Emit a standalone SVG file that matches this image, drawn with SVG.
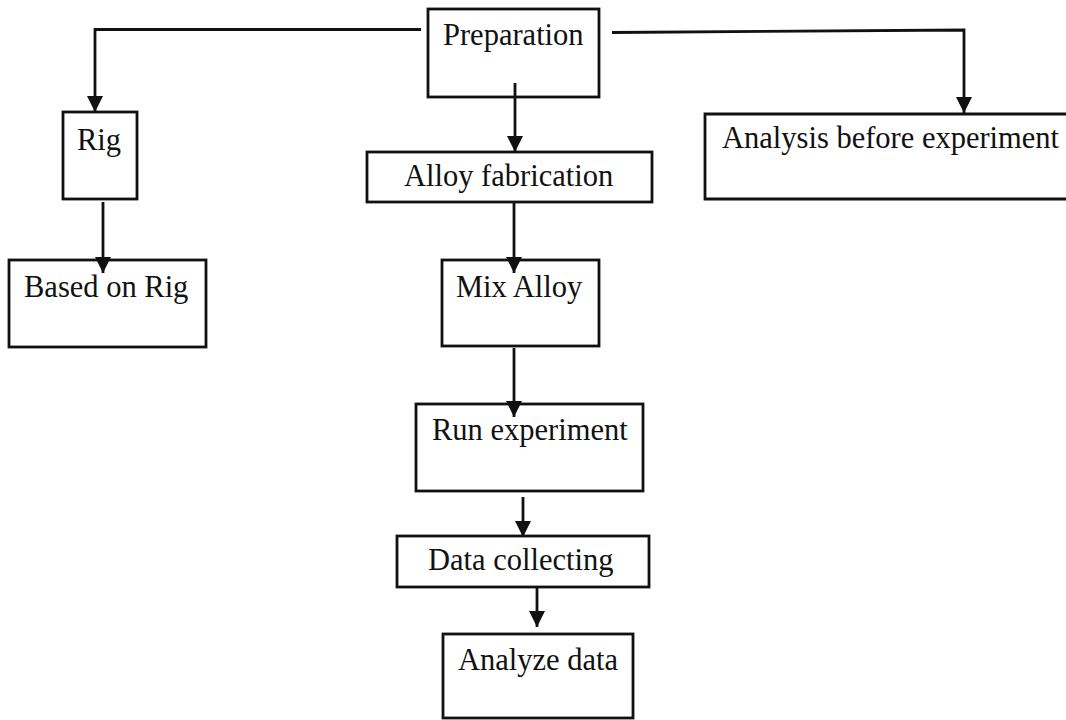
<svg xmlns="http://www.w3.org/2000/svg" width="1066" height="720" viewBox="0 0 1066 720">
<style>
.box{fill:none;stroke:#111;stroke-width:2.8}
.lbl{font-family:"Liberation Serif","Times New Roman",serif;font-size:30.5px;fill:#111}
.con{fill:none;stroke:#111;stroke-width:2.8}
</style>
<defs>
<marker id="ah" markerUnits="userSpaceOnUse" markerWidth="18" markerHeight="18" refX="16" refY="8" orient="auto">
<path d="M0,0 L16,8 L0,16 z" fill="#111"/>
</marker>
</defs>
<rect width="1066" height="720" fill="#fff"/>
<g id="connectors">
<polyline class="con" points="421,29.5 95,29.5 95,112" marker-end="url(#ah)"/>
<polyline class="con" points="612,32.5 964,30 964,113" marker-end="url(#ah)"/>
<line class="con" x1="515" y1="83" x2="515" y2="152" marker-end="url(#ah)"/>
<line class="con" x1="103" y1="202" x2="103" y2="273" marker-end="url(#ah)"/>
<line class="con" x1="514" y1="202" x2="514" y2="273" marker-end="url(#ah)"/>
<line class="con" x1="514" y1="348" x2="514" y2="417" marker-end="url(#ah)"/>
<line class="con" x1="523" y1="497" x2="523" y2="537" marker-end="url(#ah)"/>
<line class="con" x1="537" y1="587" x2="537" y2="627" marker-end="url(#ah)"/>
</g>
<g id="preparation"><rect class="box" x="428" y="9" width="171" height="88"/><text class="lbl" x="443" y="45">Preparation</text></g>
<g id="rig"><rect class="box" x="63" y="112" width="74" height="87"/><text class="lbl" x="77" y="150">Rig</text></g>
<g id="based-on-rig"><rect class="box" x="9" y="260" width="197" height="87"/><text class="lbl" x="24" y="297">Based on Rig</text></g>
<g id="alloy-fabrication"><rect class="box" x="367" y="152" width="285" height="50"/><text class="lbl" x="404" y="186">Alloy fabrication</text></g>
<g id="analysis-before-experiment"><path class="box" d="M1068,114 L705,114 L705,199 L1068,199"/><text class="lbl" x="722" y="148">Analysis before experiment</text></g>
<g id="mix-alloy"><rect class="box" x="442" y="260" width="157" height="86"/><text class="lbl" x="456" y="297">Mix Alloy</text></g>
<g id="run-experiment"><rect class="box" x="416" y="404" width="227" height="87"/><text class="lbl" x="432" y="440">Run experiment</text></g>
<g id="data-collecting"><rect class="box" x="397" y="536" width="252" height="51"/><text class="lbl" x="428" y="570">Data collecting</text></g>
<g id="analyze-data"><rect class="box" x="443" y="634" width="190" height="84"/><text class="lbl" x="458" y="670">Analyze data</text></g>
</svg>
